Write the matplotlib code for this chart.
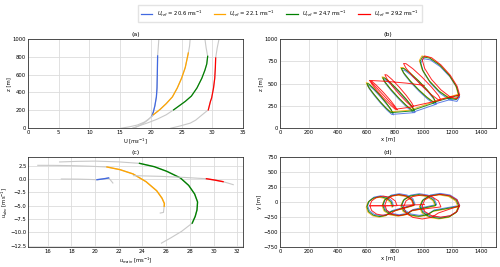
import matplotlib
matplotlib.use('Agg')
import matplotlib.pyplot as plt

colors = ['royalblue', 'orange', 'green', 'red']
u_ref = [20.6, 22.1, 24.7, 29.2]

# (a) wind profiles U(z); seg = first/last index of the coloured part
prof_u_b = [17.15, 18.0, 18.8, 19.5, 20.15, 20.4, 20.65, 20.9, 21.0, 21.05, 21.1, 21.2, 21.3]
prof_z_b = [0, 25, 55, 90, 135, 180, 250, 350, 450, 600, 810, 900, 1000]
prof_u_o = [15.2, 16.5, 17.8, 19.0, 19.8, 20.4, 21.5, 22.5, 23.5, 24.3, 25.0, 25.6, 26.1, 26.3, 26.4]
prof_z_o = [0, 15, 35, 70, 110, 150, 210, 275, 350, 450, 560, 680, 843, 920, 1000]
prof_u_g = [17.0, 17.6, 18.2, 19.5, 21.0, 22.5, 23.7, 24.6, 25.6, 26.6, 27.5, 28.3, 28.8, 29.1, 29.25, 29.0, 28.8]
prof_z_g = [0, 12, 29, 60, 100, 150, 205, 250, 300, 360, 450, 560, 650, 720, 806, 900, 1000]
prof_u_r = [23.25, 24.5, 26.4, 27.3, 28.0, 28.8, 29.35, 29.7, 29.9, 30.2, 30.4, 30.5, 30.55, 30.8, 31.1]
prof_z_r = [0, 20, 56, 90, 130, 175, 205, 300, 340, 450, 560, 680, 787, 900, 1000]
seg_a = [(4, 10), (5, 12), (6, 14), (6, 12)]

# (c) hodographs u_main / u_dev
um_b = [17.15, 18.5, 19.5, 20.16, 20.6, 20.9, 21.14, 21.3, 21.5]
ud_b = [0.0, -0.02, -0.08, -0.13, 0.0, 0.1, 0.2, -0.2, -0.75]
um_o = [15.16, 16.5, 18.0, 19.5, 21.0, 22.1, 23.2, 24.3, 25.2, 25.65, 25.85, 25.83, 25.77, 25.5]
ud_o = [2.56, 2.55, 2.5, 2.4, 2.25, 1.75, 0.95, -0.5, -2.2, -3.6, -4.6, -5.1, -6.25, -6.37]
um_g = [17.0, 18.5, 20.0, 22.0, 23.75, 25.0, 26.05, 27.2, 27.9, 28.4, 28.65, 28.6, 28.45, 28.2, 27.3, 26.4, 25.6]
ud_g = [3.19, 3.3, 3.35, 3.2, 2.93, 2.3, 1.44, 0.2, -1.2, -2.8, -4.3, -5.8, -7.0, -8.25, -9.8, -11.0, -12.0]
um_r = [23.24, 25.5, 27.5, 29.4, 30.1, 30.8, 31.2, 31.66]
ud_r = [0.62, 0.5, 0.3, 0.05, -0.2, -0.5, -0.75, -1.06]
seg_c = [(3, 6), (4, 11), (4, 13), (3, 5)]

# (b), (d) trajectories
traj_x_b = [790, 778, 745, 700, 655, 622, 610, 622, 655, 700, 745, 778, 940, 926, 885, 830, 775, 734, 720, 734, 775, 830, 885, 926,
            1090, 1074, 1030, 970, 910, 866, 850, 866, 910, 970, 1030, 1074, 1250, 1232, 1183, 1115, 1047, 998, 980, 998, 1047, 1115, 1183, 1232, 1250]
traj_y_b = [-60, 23, 83, 105, 83, 23, -60, -143, -203, -225, -203, -143, -35, 53, 117, 140, 117, 53, -35, -123, -187, -210, -187, -123,
            -40, 50, 117, 140, 117, 50, -40, -130, -197, -220, -197, -130, -55, 45, 119, 145, 119, 45, -55, -155, -229, -255, -229, -155, -55]
traj_z_b = [150, 190, 262, 350, 428, 476, 480, 440, 368, 280, 202, 154, 175, 219, 302, 400, 488, 541, 545, 501, 418, 320, 232, 179,
            270, 320, 408, 510, 598, 650, 650, 600, 512, 410, 322, 270, 350, 450, 575, 690, 765, 780, 730, 630, 505, 390, 315, 300, 350]
traj_x_o = [780, 768, 735, 690, 645, 612, 600, 612, 645, 690, 735, 768, 930, 916, 875, 820, 765, 724, 710, 724, 765, 820, 875, 916,
            1080, 1064, 1020, 960, 900, 856, 840, 856, 900, 960, 1020, 1064, 1240, 1222, 1173, 1105, 1037, 988, 970, 988, 1037, 1105, 1173, 1222, 1240]
traj_y_o = [-85, -2, 58, 80, 58, -2, -85, -168, -228, -250, -228, -168, -60, 28, 92, 115, 92, 28, -60, -148, -212, -235, -212, -148,
            -65, 25, 92, 115, 92, 25, -65, -155, -222, -245, -222, -155, -80, 20, 94, 120, 94, 20, -80, -180, -254, -280, -254, -180, -80]
traj_z_o = [180, 220, 292, 380, 458, 506, 510, 470, 398, 310, 232, 184, 205, 249, 332, 430, 518, 571, 575, 531, 448, 350, 262, 209,
            300, 350, 438, 540, 628, 680, 680, 630, 542, 440, 352, 300, 380, 480, 605, 720, 795, 810, 760, 660, 535, 420, 345, 330, 380]
traj_x_g = [785, 773, 740, 695, 650, 617, 605, 617, 650, 695, 740, 773, 935, 921, 880, 825, 770, 729, 715, 729, 770, 825, 880, 921,
            1085, 1069, 1025, 965, 905, 861, 845, 861, 905, 965, 1025, 1069, 1245, 1227, 1178, 1110, 1042, 993, 975, 993, 1042, 1110, 1178, 1227, 1245]
traj_y_g = [-75, 8, 68, 90, 68, 8, -75, -158, -218, -240, -218, -158, -50, 38, 102, 125, 102, 38, -50, -138, -202, -225, -202, -138,
            -55, 35, 102, 125, 102, 35, -55, -145, -212, -235, -212, -145, -70, 30, 104, 130, 104, 30, -70, -170, -244, -270, -244, -170, -70]
traj_z_g = [170, 210, 282, 370, 448, 496, 500, 460, 388, 300, 222, 174, 195, 239, 322, 420, 508, 561, 565, 521, 438, 340, 252, 199,
            290, 340, 428, 530, 618, 670, 670, 620, 532, 430, 342, 290, 370, 470, 595, 710, 785, 800, 750, 650, 525, 410, 335, 320, 370]
traj_x_r = [1005, 880, 740, 625, 815, 802, 768, 720, 672, 638, 625, 638, 672, 720, 768, 802, 930, 917, 880, 830, 780, 743, 730, 743, 780, 830, 880, 917,
            1120, 1103, 1055, 990, 925, 877, 860, 877, 925, 990, 1055, 1103, 1250, 1233, 1185, 1120, 1055, 1007, 990, 1007, 1055, 1120, 1185, 1233, 1250]
traj_y_r = [-40, -50, -60, -60, -60, 20, 79, 100, 79, 20, -60, -140, -199, -220, -199, -140, -50, 38, 102, 125, 102, 38, -50, -138, -202, -225, -202, -138,
            -80, 20, 94, 120, 94, 20, -80, -180, -254, -280, -254, -180, -60, 35, 105, 130, 105, 35, -60, -155, -225, -250, -225, -155, -60]
traj_z_r = [480, 505, 525, 535, 205, 242, 313, 400, 479, 528, 535, 498, 427, 340, 261, 212, 240, 283, 365, 460, 545, 597, 600, 557, 475, 380, 295, 243,
            315, 367, 460, 570, 666, 723, 725, 673, 580, 470, 374, 317, 375, 470, 594, 710, 790, 810, 765, 670, 546, 430, 350, 330, 375]

profiles = [(prof_u_b, prof_z_b), (prof_u_o, prof_z_o), (prof_u_g, prof_z_g), (prof_u_r, prof_z_r)]
hodos = [(um_b, ud_b), (um_o, ud_o), (um_g, ud_g), (um_r, ud_r)]
trajs = [(traj_x_b, traj_y_b, traj_z_b), (traj_x_o, traj_y_o, traj_z_o),
         (traj_x_g, traj_y_g, traj_z_g), (traj_x_r, traj_y_r, traj_z_r)]

fs = 3.8
plt.rcParams['font.size'] = fs
fig = plt.figure(figsize=(5, 2.67), dpi=100)
ax_a = fig.add_axes([0.056, 0.52, 0.43, 0.334])
ax_b = fig.add_axes([0.56, 0.52, 0.431, 0.334])
ax_c = fig.add_axes([0.056, 0.074, 0.43, 0.338])
ax_d = fig.add_axes([0.56, 0.074, 0.431, 0.338])

for ax in [ax_a, ax_b, ax_c, ax_d]:
    ax.grid(True, color='#dcdcdc', linewidth=0.6)
    ax.set_axisbelow(True)
    ax.tick_params(length=0, labelsize=fs, pad=1.5)
    for s in ax.spines.values():
        s.set_color('#333333')
        s.set_linewidth(0.6)

gray = '#c8c8c8'
handles = []
for i in range(4):
    u, z = profiles[i]
    i0, i1 = seg_a[i]
    ax_a.plot(u, z, color=gray, lw=0.8)
    h, = ax_a.plot(u[i0:i1 + 1], z[i0:i1 + 1], color=colors[i], lw=0.9,
                   label='$U_{ref}$ = %.1f ms$^{-1}$' % u_ref[i])
    handles.append(h)

    um, ud = hodos[i]
    i0, i1 = seg_c[i]
    ax_c.plot(um, ud, color=gray, lw=0.8)
    ax_c.plot(um[i0:i1 + 1], ud[i0:i1 + 1], color=colors[i], lw=1.0)

    x, y, zz = trajs[i]
    ax_b.plot(x, zz, color=colors[i], lw=0.7, alpha=0.85)
    ax_d.plot(x, y, color=colors[i], lw=0.7, alpha=0.85)

ax_a.set_xlim(0, 35)
ax_a.set_ylim(0, 1000)
ax_a.set_xlabel('U [$ms^{-1}$]', fontsize=fs, labelpad=1)
ax_a.set_ylabel('z [m]', fontsize=fs, labelpad=1)
ax_a.set_title('(a)', fontsize=4.5, pad=2)

ax_b.set_xlim(0, 1500)
ax_b.set_ylim(0, 1000)
ax_b.set_xticks(range(0, 1500, 200))
ax_b.set_yticks(range(0, 1001, 250))
ax_b.set_xlabel('x [m]', fontsize=fs, labelpad=1)
ax_b.set_ylabel('z [m]', fontsize=fs, labelpad=1)
ax_b.set_title('(b)', fontsize=4.5, pad=2)

ax_c.set_xticks(range(16, 33, 2))
ax_c.set_yticks([2.5, 0, -2.5, -5, -7.5, -10, -12.5])
ax_c.tick_params(axis='y', pad=1)
ax_c.set_xlabel('$u_{main}$ [ms$^{-1}$]', fontsize=fs, labelpad=1)
ax_c.set_ylabel('$u_{dev}$ [ms$^{-1}$]', fontsize=fs, labelpad=0)
ax_c.set_title('(c)', fontsize=4.5, pad=2)

ax_d.set_xlim(0, 1500)
ax_d.set_ylim(-750, 750)
ax_d.set_xticks(range(0, 1500, 200))
ax_d.set_yticks(range(-750, 751, 250))
ax_d.set_xlabel('x [m]', fontsize=fs, labelpad=1)
ax_d.set_ylabel('y [m]', fontsize=fs, labelpad=1)
ax_d.set_title('(d)', fontsize=4.5, pad=2)

fig.legend(handles=handles, loc='upper center', bbox_to_anchor=(0.56, 0.99), ncol=4,
           fontsize=fs, frameon=True, handlelength=2.2, columnspacing=2.2, borderpad=0.6,
           edgecolor='#dddddd', fancybox=False)

fig.savefig('out.png', dpi=100)
